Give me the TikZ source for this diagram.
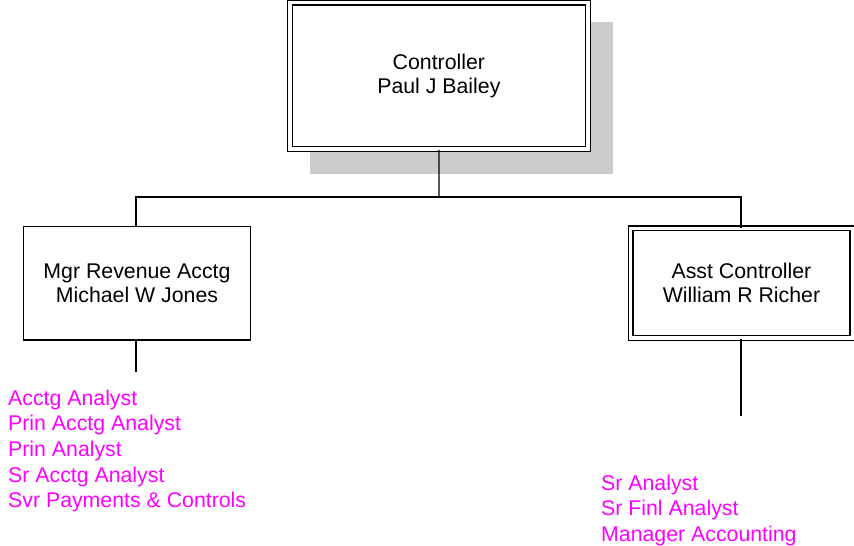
\documentclass[tikz,border=0pt]{standalone}
\usepackage{fontspec}
\setmainfont{Liberation Sans}
\definecolor{rolemag}{RGB}{255,0,255}
\begin{document}
\begin{tikzpicture}[x=1pt,y=-1pt,
  every node/.style={font=\fontsize{21.3}{24.3}\selectfont},
  conn/.style={draw=black,line width=1.3pt},
  dbox/.style={draw=black,fill=white,line width=1.2pt,double=white,double distance=3.6pt,inner sep=0pt,align=center},
  sbox/.style={draw=black,fill=white,line width=1.3pt,inner sep=0pt,align=center},
  role/.style={text=rolemag,anchor=base west,inner sep=0pt}]
\useasboundingbox (0,0) rectangle (854,546);
% shadow
\fill[black!20] (310,21.7) rectangle (613,174);
% boxes
\node[dbox,minimum width=298.2pt,minimum height=146.6pt] (ctrl) at (438.9,75.9) {Controller\\Paul J Bailey};
\node[sbox,minimum width=227.4pt,minimum height=113.3pt] (mgr) at (137,283.4) {Mgr Revenue Acctg\\Michael W Jones};
\node[dbox,minimum width=221.9pt,minimum height=109.6pt] (asst) at (741.45,283.2) {Asst Controller\\William R Richer};
% connectors
\coordinate (j) at (439,197);
\coordinate (jl) at (136,197);
\coordinate (jr) at (741,197);
\coordinate (mgrend) at (136,372);
\coordinate (asstend) at (741,416);
\draw[conn] (ctrl.south) -- (j);
\draw[conn] (jl |- mgr.north) -- (jl) -- (jr) -- (jr |- asst.north);
\draw[conn] (mgr.south -| mgrend) -- (mgrend);
\draw[conn] (asst.south -| asstend) -- (asstend);
% role lists
\node[role] (l1) at (8,405) {Acctg Analyst};
\node[role] (l2) at (8,430.7) {Prin Acctg Analyst};
\node[role] (l3) at (8,456.4) {Prin Analyst};
\node[role] (l4) at (8,482.1) {Sr Acctg Analyst};
\node[role] (l5) at (8,507.8) {Svr Payments \& Controls};
\node[role] (r1) at (601,490) {Sr Analyst};
\node[role] (r2) at (601,515.8) {Sr Finl Analyst};
\node[role] (r3) at (601,541.5) {Manager Accounting};
\end{tikzpicture}
\end{document}
